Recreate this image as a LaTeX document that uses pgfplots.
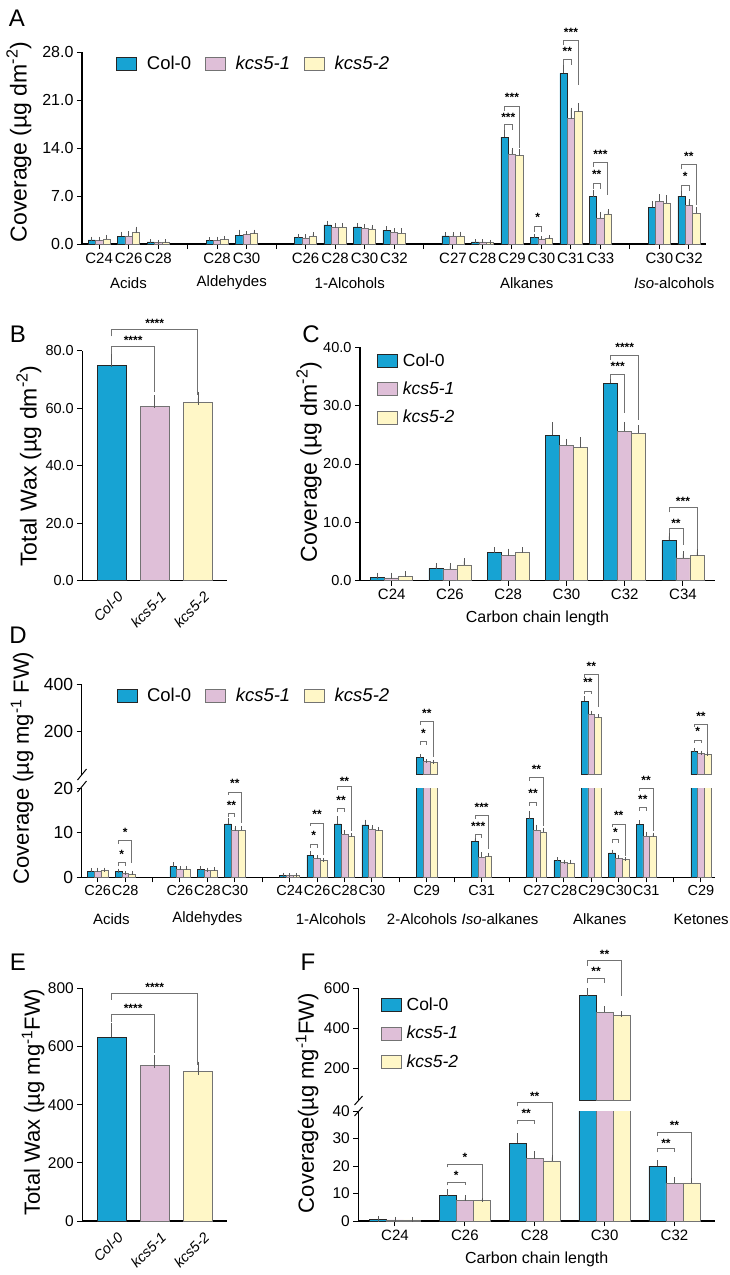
\documentclass[border=0pt]{standalone}
\usepackage{fontspec}
\setmainfont{Liberation Sans}
\usepackage{pgfplots}
\usepackage{pgfplotstable}
\pgfplotsset{compat=1.18}
\definecolor{cb}{HTML}{17A3D3}
\definecolor{cp}{HTML}{DFBFD8}
\definecolor{cy}{HTML}{FFF7C7}
\newcommand{\fs}[1]{\fontsize{#1}{#1}\selectfont}
\pgfplotsset{
  base/.style={scale only axis, anchor=south west, ybar, clip mode=individual,
    axis x line*=bottom, axis y line*=left,
    axis line style={line width=1.1pt, black},
    tick style={line width=1.0pt, black},
    tick align=outside, major tick length=5pt,
    /pgf/number format/assume math mode=true,
    tick label style={font=\fs{16}},
    error bars/y dir=plus, error bars/y explicit,
    error bars/error bar style={line width=0.6pt, black!65},
    error bars/error mark options={line width=0.6pt, black!65, mark size=2pt},
    legend image code/.code={\draw[##1] (0pt,-6.5pt) rectangle (20pt,6.5pt);},
    legend cell align=left,
  },
  hleg/.style={legend style={draw=none, fill=none, font=\fs{18.5}, legend columns=3,
    /tikz/every odd column/.append style={column sep=8pt},
    /tikz/every even column/.append style={column sep=12pt}}},
  vleg/.style={legend style={draw=none, fill=none, font=\fs{17.5}, legend columns=1, row sep=10pt,
    /tikz/every odd column/.append style={column sep=3pt}}},
  dec1/.style={yticklabel style={/pgf/number format/.cd, fixed, fixed zerofill, precision=1}},
  bb/.style={fill=cb, draw=black!85, line width=0.5pt},
  pp/.style={fill=cp, draw=black!55, line width=0.5pt},
  yy/.style={fill=cy, draw=black!55, line width=0.5pt},
}
\tikzset{brk/.style={draw=black!55, line width=0.7pt},
  stars/.style={font=\bfseries\fs{12}, inner sep=0pt, yshift=-2pt}}
\newcommand{\br}[5]{\draw[brk] (axis cs:#1,#4) |- (axis cs:#2,#3) -- (axis cs:#2,#5);}
\newcommand{\st}[3]{\node[stars] at (axis cs:#1,#2) {#3};}

\pgfplotstableread{
x b be p pe y ye
1 1.4 0.2 1.4 0.3 1.5 0.2
2 1.3 0.2 0.9 0.1 0.8 0.1
4 2.4 0.5 1.8 0.2 1.9 0.2
5 1.7 0.3 1.5 0.2 1.6 0.2
6 12.0 0.8 10.5 0.6 10.6 0.5
8 0.5 0.1 0.4 0.1 0.4 0.1
9 5.0 0.5 4.2 0.3 3.8 0.2
10 12.0 1.3 9.7 0.4 9.2 0.3
11 11.8 0.7 10.8 0.4 10.6 0.3
13 92.5 4 74 2 71.6 2
15 8.1 0.4 4.5 0.7 4.8 0.3
17 13.2 1.2 10.6 0.8 10.2 0.5
18 3.8 0.3 3.3 0.2 3.1 0.4
19 328.6 12 272.8 7 260 4
20 5.5 0.3 4.2 0.3 4.0 0.2
21 11.9 0.5 9.2 0.6 9.2 0.4
23 119 4 109 3 106 2
}\tabD
\pgfplotstableread{
x b be p pe y ye
1 0.6 0.1 0.4 0.05 0.4 0.05
2 9.2 1.2 7.6 0.6 7.6 0.3
3 28.2 2.6 22.7 1.5 21.9 1.2
4 563 25 481.5 13.5 463 8.5
5 20.0 1.0 13.7 1.2 13.9 1.2
}\tabF

\begin{document}
\begin{tikzpicture}
\useasboundingbox (0,0) rectangle (729pt,-1275pt);

% ---------------- A ----------------
\begin{axis}[base, dec1, hleg, at={(82pt,-244pt)}, width=624pt, height=192pt,
  xmin=0.42, xmax=21.58, ymin=0, ymax=28, ytick={0,7,14,21,28},
  xtick={1,...,21},
  xticklabels={C24,C26,C28,,C28,C30,,C26,C28,C30,C32,,C27,C28,C29,C30,C31,C33,,C30,C32},
  xticklabel style={font=\fs{15}},
  bar width=0.25,
  legend style={at={(0.05,1.0)}, anchor=north west},
]
\addplot[bb, bar shift=-0.25] coordinates {(1,0.6)+-(0,0.2) (2,1.1)+-(0,0.4) (3,0.3)+-(0,0.1) (5,0.5)+-(0,0.2) (6,1.3)+-(0,0.5) (8,1.0)+-(0,0.2) (9,2.8)+-(0,0.3) (10,2.5)+-(0,0.3) (11,2.0)+-(0,0.3) (13,1.2)+-(0,0.2) (14,0.3)+-(0,0.1) (15,15.6)+-(0,0.7) (16,1.0)+-(0,0.15) (17,24.9)+-(0,1.1) (18,6.9)+-(0,0.7) (20,5.35)+-(0,0.6) (21,7.0)+-(0,0.5)};
\addplot[pp, bar shift=0] coordinates {(1,0.5)+-(0,0.3) (2,1.1)+-(0,0.5) (3,0.2)+-(0,0.1) (5,0.5)+-(0,0.3) (6,1.4)+-(0,0.2) (8,0.9)+-(0,0.2) (9,2.4)+-(0,0.4) (10,2.3)+-(0,0.3) (11,1.7)+-(0,0.3) (13,1.1)+-(0,0.3) (14,0.3)+-(0,0.1) (15,13.1)+-(0,0.6) (16,0.75)+-(0,0.1) (17,18.3)+-(0,1.3) (18,3.8)+-(0,0.6) (20,6.2)+-(0,0.8) (21,5.6)+-(0,0.6)};
\addplot[yy, bar shift=0.25] coordinates {(1,0.75)+-(0,0.3) (2,1.65)+-(0,0.6) (3,0.3)+-(0,0.1) (5,0.7)+-(0,0.2) (6,1.6)+-(0,0.2) (8,1.1)+-(0,0.3) (9,2.5)+-(0,0.3) (10,2.2)+-(0,0.3) (11,1.6)+-(0,0.4) (13,1.2)+-(0,0.3) (14,0.2)+-(0,0.1) (15,12.9)+-(0,0.7) (16,0.85)+-(0,0.1) (17,19.3)+-(0,1.0) (18,4.4)+-(0,0.4) (20,6.0)+-(0,0.8) (21,4.5)+-(0,0.6)};
\legend{Col-0,\textit{kcs5-1},\textit{kcs5-2}}
\br{14.75}{15}{17.4}{16.6}{16.6} \st{14.875}{18.7}{***}
\br{14.75}{15.25}{20.1}{19.4}{14.0} \st{15}{21.7}{***}
\br{15.75}{16}{2.6}{1.8}{1.8} \st{15.875}{4.2}{*}
\br{16.75}{17}{26.9}{26.1}{26.1} \st{16.875}{28.4}{**}
\br{16.75}{17.25}{29.7}{29.0}{23.2} \st{17}{31.1}{***}
\br{17.75}{18}{8.85}{8.0}{8.0} \st{17.875}{10.4}{**}
\br{17.75}{18.25}{11.9}{11.2}{7.1} \st{18}{13.4}{***}
\br{20.75}{21}{8.6}{7.8}{7.8} \st{20.875}{10.2}{*}
\br{20.75}{21.25}{11.6}{10.9}{5.7} \st{21}{13.1}{**}
\end{axis}

% ---------------- B ----------------
\begin{axis}[base, dec1, at={(82.3pt,-580.7pt)}, width=144.4pt, height=230pt,
  xmin=0.32, xmax=3.67, ymin=0, ymax=80, ytick={0,20,40,60,80},
  tick label style={font=\fs{14.5}},
  xtick={1,2,3}, xticklabels={Col-0,kcs5-1,kcs5-2},
  xticklabel style={font=\itshape\fs{14.5}, xshift=5pt, rotate=45, anchor=north east},
  xtick style={draw=none}, bar width=0.66,
  error bars/error mark options={line width=0.6pt, black!65, mark size=6.5pt},
]
\addplot[bb, bar shift=0] coordinates {(1,74.8)+-(0,1.7)};
\addplot[pp, bar shift=0] coordinates {(2,60.8)+-(0,1.4)};
\addplot[yy, bar shift=0] coordinates {(3,62.1)+-(0,1.3)};
\br{1}{2}{81.6}{78.8}{65.7} \st{1.5}{84.3}{****}
\br{1}{3}{87.6}{85.0}{64.6} \st{2}{90.3}{****}
\end{axis}

% ---------------- C ----------------
\begin{axis}[base, dec1, vleg, at={(360pt,-580.7pt)}, width=355pt, height=233.4pt,
  xmin=0.456, xmax=6.55, ymin=0, ymax=40, ytick={0,10,20,30,40},
  tick label style={font=\fs{14.5}},
  xtick={1,...,6}, xticklabels={C24,C26,C28,C30,C32,C34},
  xticklabel style={font=\fs{15}}, bar width=0.24,
  error bars/error mark options={line width=0.6pt, black!65, mark size=3pt},
  legend style={at={(0.04,0.99)}, anchor=north west},
]
\addplot[bb, bar shift=-0.24] coordinates {(1,0.57)+-(0,0.3) (2,2.1)+-(0,0.4) (3,4.9)+-(0,0.3) (4,24.9)+-(0,1.7) (5,33.8)+-(0,0.8) (6,6.9)+-(0,0.7)};
\addplot[pp, bar shift=0] coordinates {(1,0.5)+-(0,0.35) (2,2.0)+-(0,0.45) (3,4.3)+-(0,0.7) (4,23.2)+-(0,0.6) (5,25.6)+-(0,1.1) (6,3.9)+-(0,0.6)};
\addplot[yy, bar shift=0.24] coordinates {(1,0.75)+-(0,0.35) (2,2.7)+-(0,0.6) (3,4.9)+-(0,0.35) (4,22.8)+-(0,1.3) (5,25.3)+-(0,0.8) (6,4.3)+-(0,0.55)};
\legend{Col-0,\textit{kcs5-1},\textit{kcs5-2}}
\br{4.76}{5}{35.4}{34.6}{28.7} \st{4.88}{37.0}{***}
\br{4.76}{5.24}{38.7}{37.9}{27.5} \st{5}{40.4}{****}
\br{5.76}{6}{8.9}{8.1}{6.1} \st{5.88}{10.2}{**}
\br{5.76}{6.24}{12.5}{11.7}{5.5} \st{6}{13.95}{***}
\end{axis}

% ---------------- D bottom ----------------
\begin{axis}[base, at={(81.7pt,-877.3pt)}, width=633pt, height=89pt,
  xmin=0.417, xmax=23.5, ymin=0, ymax=20, ytick={0,10,20},
  tick label style={font=\fs{17.5}},
  xtick={1,...,23},
  xticklabels={C26,C28,,C26,C28,C30,,C24,C26,C28,C30,,C29,,C31,,C27,C28,C29,C30,C31,,C29},
  xticklabel style={font=\fs{14.5}}, bar width=0.245,
]
\addplot[bb, bar shift=-0.245] table[x=x, y=b, y error=be] {\tabD};
\addplot[pp, bar shift=0] table[x=x, y=p, y error=pe] {\tabD};
\addplot[yy, bar shift=0.245] table[x=x, y=y, y error=ye] {\tabD};
\br{1.755}{2}{3.3}{2.5}{2.5} \st{1.8775}{5.5}{*}
\br{1.755}{2.245}{8.2}{7.5}{3.3} \st{2}{10.5}{*}
\br{5.755}{6}{14.3}{13.5}{13.5} \st{5.8775}{16.7}{**}
\br{5.755}{6.245}{19.2}{18.5}{12.3} \st{6}{21.5}{**}
\br{8.755}{9}{7.4}{6.6}{6.6} \st{8.8775}{9.9}{*}
\br{8.755}{9.245}{12.2}{11.5}{5.0} \st{9}{14.7}{**}
\br{9.755}{10}{15.4}{14.6}{14.6} \st{9.8775}{17.7}{**}
\br{9.755}{10.245}{20.4}{19.7}{10.5} \st{10}{22.1}{**}
\br{14.755}{15}{9.7}{8.9}{8.9} \st{14.8775}{12.0}{***}
\br{14.755}{15.245}{13.9}{13.2}{6.3} \st{15}{16.2}{***}
\br{16.755}{17}{16.9}{16.1}{16.1} \st{16.8775}{19.2}{**}
\br{16.755}{17.245}{22.4}{21.7}{11.5} \st{17}{24.6}{**}
\br{19.755}{20}{8.6}{7.8}{7.8} \st{19.8775}{10.5}{*}
\br{19.755}{20.245}{12.0}{11.3}{4.8} \st{20}{14.3}{**}
\br{20.755}{21}{15.8}{15.0}{15.0} \st{20.8775}{17.9}{**}
\br{20.755}{21.245}{20.1}{19.4}{10.3} \st{21}{22.3}{**}
\end{axis}

% ---------------- D top ----------------
\begin{axis}[base, hleg, at={(81.7pt,-774.6pt)}, width=633pt, height=90.6pt,
  xmin=0.417, xmax=23.5, ymin=20, ymax=400, ytick={200,400},
  restrict y to domain=20:100000,
  axis x line=none,
  tick label style={font=\fs{17.5}}, bar width=0.245,
  legend style={at={(0.05,1.0)}, anchor=north west},
]
\addplot[bb, bar shift=-0.245] table[x=x, y=b, y error=be] {\tabD};
\addplot[pp, bar shift=0] table[x=x, y=p, y error=pe] {\tabD};
\addplot[yy, bar shift=0.245] table[x=x, y=y, y error=ye] {\tabD};
\legend{Col-0,\textit{kcs5-1},\textit{kcs5-2}}
\br{12.755}{13}{158}{145}{145} \st{12.8775}{200}{*}
\br{12.755}{13.245}{242}{228}{95} \st{13}{284}{**}
\br{18.755}{19}{370}{357}{357} \st{18.8775}{417}{**}
\br{18.755}{19.245}{440.5}{427}{305} \st{19}{484}{**}
\br{22.755}{23}{165}{152}{152} \st{22.8775}{211}{*}
\br{22.755}{23.245}{231}{218}{113} \st{23}{273}{**}
\end{axis}

% ---------------- E ----------------
\begin{axis}[base, at={(82.3pt,-1221pt)}, width=144.4pt, height=232.7pt,
  xmin=0.32, xmax=3.67, ymin=0, ymax=800, ytick={0,200,400,600,800},
  tick label style={font=\fs{15.5}},
  xtick={1,2,3}, xticklabels={Col-0,kcs5-1,kcs5-2},
  xticklabel style={font=\itshape\fs{14.5}, xshift=5pt, rotate=45, anchor=north east},
  xtick style={draw=none}, bar width=0.66,
  error bars/error mark options={line width=0.6pt, black!65, mark size=6.5pt},
]
\addplot[bb, bar shift=0] coordinates {(1,631)+-(0,28)};
\addplot[pp, bar shift=0] coordinates {(2,534)+-(0,13)};
\addplot[yy, bar shift=0] coordinates {(3,514)+-(0,12)};
\br{1}{2}{711}{685}{578} \st{1.5}{737}{****}
\br{1}{3}{782}{760}{535} \st{2}{809}{****}
\end{axis}

% ---------------- F bottom ----------------
\begin{axis}[base, at={(358.3pt,-1221pt)}, width=356.7pt, height=110pt,
  xmin=0.475, xmax=5.58, ymin=0, ymax=40, ytick={0,10,20,30,40},
  tick label style={font=\fs{15.5}},
  xtick={1,...,5}, xticklabels={C24,C26,C28,C30,C32},
  xticklabel style={font=\fs{15}}, bar width=0.245,
  error bars/error mark options={line width=0.6pt, black!65, mark size=3pt},
]
\addplot[bb, bar shift=-0.245] table[x=x, y=b, y error=be] {\tabF};
\addplot[pp, bar shift=0] table[x=x, y=p, y error=pe] {\tabF};
\addplot[yy, bar shift=0.245] table[x=x, y=y, y error=ye] {\tabF};
\br{1.755}{2}{14.2}{13.0}{13.0} \st{1.8775}{17.3}{*}
\br{1.755}{2.245}{20.7}{19.5}{8.5} \st{2}{23.7}{*}
\br{2.755}{3}{36.6}{35.2}{35.2} \st{2.8775}{39.9}{**}
\br{2.755}{3.245}{43.1}{41.7}{24.0} \st{3}{46.1}{**}
\br{4.755}{5}{26.3}{25.0}{25.0} \st{4.8775}{29.1}{**}
\br{4.755}{5.245}{32.4}{31.0}{15.5} \st{5}{35.4}{**}
\end{axis}

% ---------------- F top ----------------
\begin{axis}[base, vleg, at={(358.3pt,-1100.3pt)}, width=356.7pt, height=112pt,
  xmin=0.475, xmax=5.58, ymin=40, ymax=600, ytick={200,400,600},
  restrict y to domain=40:100000,
  axis x line=none,
  tick label style={font=\fs{15.5}}, bar width=0.245,
  error bars/error mark options={line width=0.6pt, black!65, mark size=3pt},
  legend style={at={(0.055,0.95)}, anchor=north west},
]
\addplot[bb, bar shift=-0.245] table[x=x, y=b, y error=be] {\tabF};
\addplot[pp, bar shift=0] table[x=x, y=p, y error=pe] {\tabF};
\addplot[yy, bar shift=0.245] table[x=x, y=y, y error=ye] {\tabF};
\legend{Col-0,\textit{kcs5-1},\textit{kcs5-2}}
\br{3.755}{4}{650}{625}{625} \st{3.8775}{695}{**}
\br{3.755}{4.245}{738}{711}{562} \st{4}{778}{**}
\end{axis}

% ---------------- break marks ----------------
\draw[line width=1pt] (77.5pt,-780pt) -- (86.5pt,-769pt);
\draw[line width=1pt] (77.5pt,-792pt) -- (86.5pt,-781pt);
\draw[line width=1pt] (354.5pt,-1105pt) -- (362.5pt,-1096pt);
\draw[line width=1pt] (354.5pt,-1116pt) -- (362.5pt,-1107pt);

% ---------------- labels ----------------
\node[font=\fs{24}] at (17pt,-18pt) {A};
\node[font=\fs{24}] at (18pt,-334pt) {B};
\node[font=\fs{24}] at (311pt,-334pt) {C};
\node[font=\fs{24}] at (18pt,-635pt) {D};
\node[font=\fs{24}] at (18pt,-962pt) {E};
\node[font=\fs{24}] at (308pt,-962pt) {F};

\node[font=\fs{23}, rotate=90] at (19pt,-142pt) {Coverage (µg dm\textsuperscript{-2})};
\node[font=\fs{23}, rotate=90] at (29pt,-466pt) {Total Wax (µg dm\textsuperscript{-2})};
\node[font=\fs{23}, rotate=90] at (309pt,-462pt) {Coverage (µg dm\textsuperscript{-2})};
\node[font=\fs{22}, rotate=90] at (22pt,-768pt) {Coverage (µg mg\textsuperscript{-1} FW)};
\node[font=\fs{22}, rotate=90] at (33pt,-1102pt) {Total Wax (µg mg\textsuperscript{-1}FW)};
\node[font=\fs{22}, rotate=90] at (307pt,-1103pt) {Coverage(µg mg\textsuperscript{-1}FW)};

\begin{scope}[every node/.style={font=\fs{15}}]
\node at (128.5pt,-283pt) {Acids};
\node at (231.75pt,-283pt) {Aldehydes};
\node at (349.75pt,-283pt) {1-Alcohols};
\node at (526.75pt,-283pt) {Alkanes};
\node at (674.25pt,-283pt) {\textit{Iso}-alcohols};
\node at (111.4pt,-919pt) {Acids};
\node at (207.4pt,-919pt) {Aldehydes};
\node at (330.9pt,-919pt) {1-Alcohols};
\node at (422pt,-919pt) {2-Alcohols};
\node at (500pt,-919pt) {\textit{Iso}-alkanes};
\node at (599.7pt,-919pt) {Alkanes};
\node at (701.2pt,-919pt) {Ketones};
\end{scope}
\node[font=\fs{16}] at (537.5pt,-618pt) {Carbon chain length};
\node[font=\fs{16}] at (536.7pt,-1259pt) {Carbon chain length};
\end{tikzpicture}
\end{document}
